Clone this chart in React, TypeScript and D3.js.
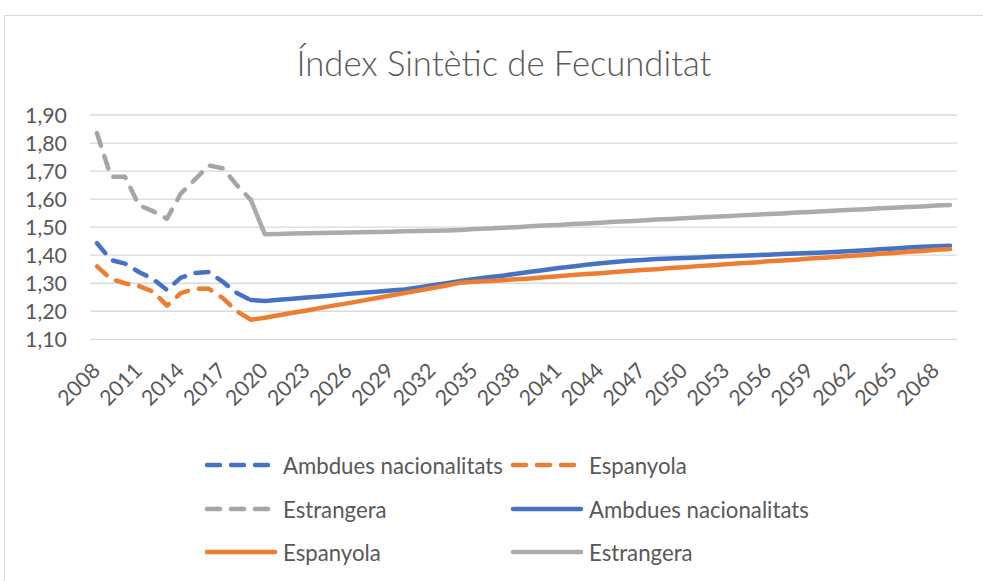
import React from 'react';
import * as d3 from 'd3';

const W = 983;
const H = 581;

const years = d3.range(2008, 2070);
const tickYears = [2008, 2011, 2014, 2017, 2020, 2023, 2026, 2029, 2032, 2035, 2038, 2041, 2044, 2047, 2050, 2053, 2056, 2059, 2062, 2065, 2068];
const yTicks = [1.1, 1.2, 1.3, 1.4, 1.5, 1.6, 1.7, 1.8, 1.9];

const histYears = d3.range(2008, 2020);
const projYears = d3.range(2019, 2070);

const histAmbdues = [1.443, 1.383, 1.370, 1.340, 1.315, 1.276, 1.320, 1.336, 1.340, 1.305, 1.265, 1.240];
const histEspanyola = [1.360, 1.315, 1.300, 1.290, 1.270, 1.220, 1.265, 1.280, 1.280, 1.247, 1.200, 1.170];
const histEstrangera = [1.835, 1.680, 1.680, 1.578, 1.557, 1.530, 1.620, 1.670, 1.720, 1.710, 1.650, 1.597];

const projAmbdues = [
  1.240, 1.237, 1.241, 1.245, 1.249, 1.253, 1.257, 1.262, 1.266, 1.270,
  1.274, 1.278, 1.285, 1.293, 1.300, 1.308, 1.315, 1.321, 1.327, 1.334,
  1.341, 1.347, 1.354, 1.360, 1.366, 1.371, 1.376, 1.380, 1.383, 1.386,
  1.388, 1.390, 1.392, 1.394, 1.396, 1.398, 1.400, 1.402, 1.404, 1.406,
  1.408, 1.410, 1.412, 1.415, 1.418, 1.421, 1.424, 1.427, 1.430, 1.432,
  1.434,
];
const projEspanyola = [
  1.170, 1.177, 1.186, 1.195, 1.203, 1.212, 1.221, 1.229, 1.238, 1.247,
  1.256, 1.265, 1.274, 1.283, 1.292, 1.302, 1.305, 1.308, 1.311, 1.314,
  1.317, 1.321, 1.325, 1.329, 1.333, 1.336, 1.340, 1.344, 1.347, 1.350,
  1.354, 1.357, 1.361, 1.364, 1.368, 1.371, 1.374, 1.378, 1.381, 1.384,
  1.388, 1.391, 1.394, 1.398, 1.401, 1.405, 1.408, 1.412, 1.415, 1.419,
  1.422,
];
const projEstrangera = [
  1.597, 1.475, 1.476, 1.477, 1.478, 1.479, 1.480, 1.481, 1.482, 1.483,
  1.484, 1.485, 1.486, 1.487, 1.488, 1.490, 1.493, 1.495, 1.498, 1.500,
  1.503, 1.506, 1.508, 1.511, 1.513, 1.516, 1.519, 1.521, 1.524, 1.527,
  1.529, 1.532, 1.534, 1.537, 1.539, 1.542, 1.544, 1.547, 1.549, 1.552,
  1.554, 1.557, 1.559, 1.562, 1.564, 1.567, 1.569, 1.572, 1.574, 1.577,
  1.579,
];

const seriesNames = ['Ambdues nacionalitats', 'Espanyola', 'Estrangera', 'Ambdues nacionalitats', 'Espanyola', 'Estrangera'];
const title = 'Índex Sintètic de Fecunditat';

const FONT = 'Lato, "Open Sans", sans-serif';
const TEXT = '#595959';

function fitSize(text: string, target: number, weight = 400): number {
  const ctx = document.createElement('canvas').getContext('2d');
  if (!ctx) return 20;
  ctx.font = `${weight} 100px ${FONT}`;
  const w = ctx.measureText(text).width;
  return (100 * target) / w;
}

export default function App() {
  const x = d3.scalePoint<number>().domain(years).range([90, 957]).padding(0.5);
  const y = d3.scaleLinear().domain([1.1, 1.9]).range([339.3, 115]);

  const series = [
    { name: seriesNames[0], color: '#4472C4', dashed: true, yrs: histYears, vals: histAmbdues },
    { name: seriesNames[1], color: '#ED7D31', dashed: true, yrs: histYears, vals: histEspanyola },
    { name: seriesNames[2], color: '#A5A5A5', dashed: true, yrs: histYears, vals: histEstrangera },
    { name: seriesNames[3], color: '#4472C4', dashed: false, yrs: projYears, vals: projAmbdues },
    { name: seriesNames[4], color: '#ED7D31', dashed: false, yrs: projYears, vals: projEspanyola },
    { name: seriesNames[5], color: '#AEAAAA', dashed: false, yrs: projYears, vals: projEstrangera },
  ];

  const line = d3
    .line<[number, number]>()
    .x((d) => x(d[0]) as number)
    .y((d) => y(d[1]));

  const titleSize = fitSize(title, 415, 300);
  const axisSize = fitSize('1,90', 42);
  const legendSize = fitSize('Ambdues nacionalitats', 220);
  const fmt = (v: number) => d3.format('.2f')(v).replace('.', ',');

  const dash = '13 11';
  const lw = 4.5;

  const legendCols = [205, 511];
  const legendRows = [465, 509, 552];

  return (
    <svg width={W} height={H} style={{ position: 'absolute', left: 0, top: 0, background: '#fff' }}>
      <rect x={0} y={0} width={W} height={H} fill="#fff" />
      <rect x={4.5} y={15.5} width={1100} height={700} fill="#fff" stroke="#D9D9D9" strokeWidth={1} />
      <text x={504} y={62} textAnchor="middle" dominantBaseline="central" fontFamily={FONT} fontWeight={300} fontSize={titleSize} fill={TEXT}>
        {title}
      </text>
      {yTicks.map((t) => (
        <g key={t}>
          <line x1={90} x2={957} y1={y(t)} y2={y(t)} stroke="#D9D9D9" strokeWidth={1.3} />
          <text x={67} y={y(t)} textAnchor="end" dominantBaseline="central" fontFamily={FONT} fontSize={axisSize} fill={TEXT}>
            {fmt(t)}
          </text>
        </g>
      ))}
      {tickYears.map((yr) => (
        <text
          key={yr}
          transform={`translate(${(x(yr) as number) + 4.5},372) rotate(-45)`}
          textAnchor="end"
          fontFamily={FONT}
          fontSize={axisSize}
          fill={TEXT}
        >
          {yr}
        </text>
      ))}
      {series.map((s, i) => (
        <path
          key={i}
          d={line(s.yrs.map((yr, j) => [yr, s.vals[j]] as [number, number])) || ''}
          fill="none"
          stroke={s.color}
          strokeWidth={lw}
          strokeLinecap="round"
          strokeLinejoin="round"
          strokeDasharray={s.dashed ? dash : undefined}
        />
      ))}
      {series.map((s, i) => {
        const cx = legendCols[i % 2];
        const cy = legendRows[Math.floor(i / 2)];
        return (
          <g key={'lg' + i}>
            <line
              x1={cx + 2}
              x2={cx + 70}
              y1={cy}
              y2={cy}
              stroke={s.color}
              strokeWidth={lw}
              strokeLinecap="round"
              strokeDasharray={s.dashed ? dash : undefined}
            />
            <text x={cx + 78} y={cy} dominantBaseline="central" fontFamily={FONT} fontSize={legendSize} fill={TEXT}>
              {s.name}
            </text>
          </g>
        );
      })}
    </svg>
  );
}
